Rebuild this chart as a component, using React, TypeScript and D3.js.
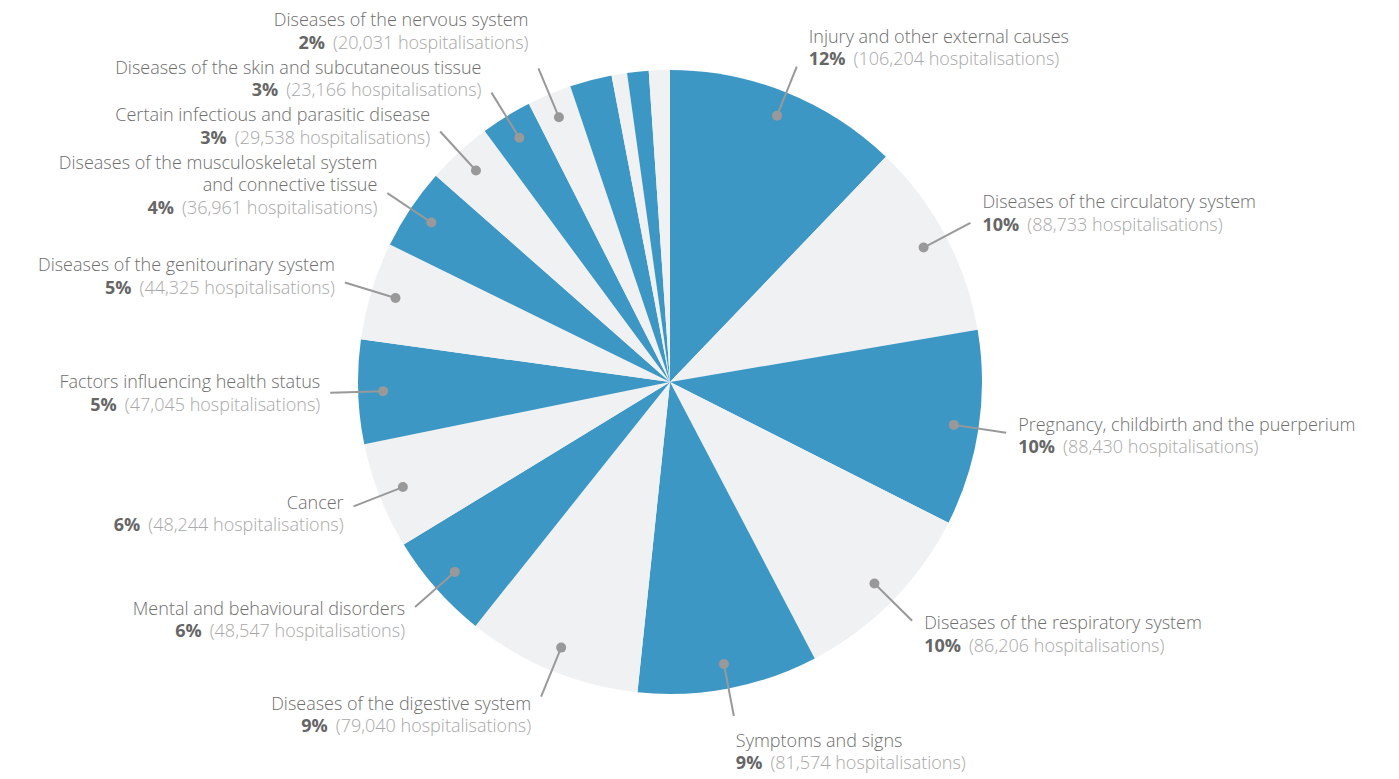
import React, { useEffect } from 'react';
import * as d3 from 'd3';

// hospitalisations by cause, clockwise from 12 o'clock
const categories = [
  'Injury and other external causes',
  'Diseases of the circulatory system',
  'Pregnancy, childbirth and the puerperium',
  'Diseases of the respiratory system',
  'Symptoms and signs',
  'Diseases of the digestive system',
  'Mental and behavioural disorders',
  'Cancer',
  'Factors influencing health status',
  'Diseases of the genitourinary system',
  'Diseases of the musculoskeletal system\nand connective tissue',
  'Certain infectious and parasitic disease',
  'Diseases of the skin and subcutaneous tissue',
  'Diseases of the nervous system',
  '',
  '',
  '',
  '',
];
const values = [
  106204, 88733, 88430, 86206, 81574, 79040, 48547, 48244, 47045, 44325, 36961,
  29538, 23166, 20031, 19000, 7000, 9700, 9500,
];

const W = 1399;
const H = 779;
const cx = 670;
const cy = 382;
const radius = 312;
const BLUE = '#3d97c4';
const LIGHT = '#f0f1f3';

type Lbl = {
  i: number;
  dot: number[];
  end: number[];
  right: boolean;
  lines: string[];
  x: number;
  anchor: 'start' | 'end';
  first: number; // baseline of first line (absolute)
};

const App: React.FC = () => {
  useEffect(() => {
    document.body.style.margin = '0';
  }, []);

  const total = d3.sum(values);
  const pie = d3.pie<number>().sort(null).value((d) => d);
  const arcs = pie(values);
  const arc = d3.arc<d3.PieArcDatum<number>>().innerRadius(0).outerRadius(radius);
  const fmt = d3.format(',');

  const rDot = radius * 0.92;
  const rEnd = 340;
  const lineH = 22.5;
  const gap = 25;
  const fs = 18;

  const labels: Lbl[] = [];
  arcs.forEach((a, i) => {
    if (!categories[i]) return;
    const mid = (a.startAngle + a.endAngle) / 2;
    const s = Math.sin(mid);
    const c = Math.cos(mid);
    const dot = [cx + s * rDot, cy - c * rDot];
    const end = [cx + s * rEnd, cy - c * rEnd];
    const right = s >= 0;
    const lines = categories[i].split('\n');
    const n = lines.length + 1;
    let x: number;
    let first: number;
    if (Math.abs(s) < 0.3) {
      // near the bottom / top: text sits under or above the line end
      x = end[0] + 2;
      first = c < 0 ? end[1] + gap + 6 : end[1] - gap - (n - 1) * lineH + 6;
    } else {
      x = end[0] + (right ? 12 : -10);
      const centre = end[1] - c * 20;
      first = centre - ((n - 1) * lineH) / 2 + 6;
    }
    labels.push({ i, dot, end, right, lines, x, anchor: right ? 'start' : 'end', first });
  });

  // keep the label blocks on each side from overlapping
  [true, false].forEach((side) => {
    const ls = labels.filter((l) => l.right === side).sort((a, b) => a.first - b.first);
    const last = (l: Lbl) => l.first + l.lines.length * lineH;
    for (let k = ls.length - 2; k >= 0; k--) {
      const lim = ls[k + 1].first - gap - ls[k].lines.length * lineH;
      if (ls[k].first > lim) ls[k].first = lim;
    }
    if (ls.length && ls[0].first < 26) ls[0].first = 26;
    for (let k = 1; k < ls.length; k++) {
      const lim = last(ls[k - 1]) + gap;
      if (ls[k].first < lim) ls[k].first = lim;
    }
  });

  return (
    <svg width={W} height={H} style={{ display: 'block', fontFamily: '"Open Sans", Roboto, sans-serif' }}>
      <g transform={`translate(${cx},${cy})`}>
        {arcs.map((a, i) => (
          <path key={i} d={arc(a) || ''} fill={i % 2 === 0 ? BLUE : LIGHT} />
        ))}
      </g>
      {labels.map((l) => {
        const pct = Math.round((values[l.i] / total) * 100);
        const lastY = l.first + l.lines.length * lineH;
        return (
          <g key={'l' + l.i}>
            <line x1={l.dot[0]} y1={l.dot[1]} x2={l.end[0]} y2={l.end[1]} stroke="#999" strokeWidth={2} />
            <circle cx={l.dot[0]} cy={l.dot[1]} r={5} fill="#999" />
            <text textAnchor={l.anchor} fontSize={fs} fontWeight={300}>
              {l.lines.map((t, k) => (
                <tspan key={k} x={l.x} y={l.first + k * lineH} fill="#6e6e6e">
                  {t}
                </tspan>
              ))}
              <tspan x={l.x} y={lastY} fill="#666" fontWeight={700}>
                {pct}%
              </tspan>
              <tspan fill="#a8a8a8" dx={8}>
                ({fmt(values[l.i])} hospitalisations)
              </tspan>
            </text>
          </g>
        );
      })}
    </svg>
  );
};

export default App;
